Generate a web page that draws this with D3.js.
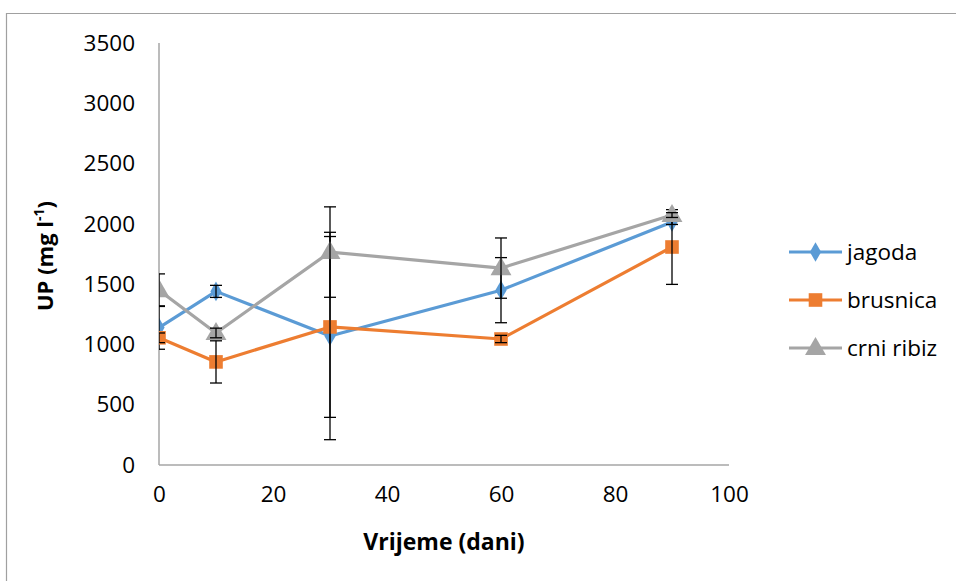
<!DOCTYPE html>
<html><head><meta charset="utf-8">
<script src="https://cdn.jsdelivr.net/npm/d3@7"></script>
<style>body{margin:0;background:#fff}svg{display:block}text{font-family:"Open Sans","Liberation Sans",sans-serif}</style>
</head><body>
<svg id="c" width="956" height="581"></svg>
<script>
const days = [0, 10, 30, 60, 90];
const seriesNames = ["jagoda", "brusnica", "crni ribiz"];
const jagoda = [1140, 1440, 1070, 1450, 2015];
const jagodaErr = [180, 50, 860, 270, 20];
const brusnica = [1055, 855, 1145, 1045, 1808];
const brusnicaErr = [40, 175, 750, 30, 310];
const crniRibiz = [1450, 1095, 1766, 1633, 2073];
const crniRibizErr = [135, 40, 375, 250, 20];
const xTicks = [0, 20, 40, 60, 80, 100];
const yTicks = [0, 500, 1000, 1500, 2000, 2500, 3000, 3500];
const colors = ["#5B9BD5", "#ED7D31", "#A5A5A5"];
const markerTypes = ["diamond", "square", "triangle"];

const series = [
  {name: seriesNames[0], vals: jagoda, err: jagodaErr},
  {name: seriesNames[1], vals: brusnica, err: brusnicaErr},
  {name: seriesNames[2], vals: crniRibiz, err: crniRibizErr}
];

const FONT = '"Open Sans","Liberation Sans",sans-serif';
const svg = d3.select("#c");
const x = d3.scaleLinear().domain([0, 100]).range([159, 729]);
const y = d3.scaleLinear().domain([0, 3500]).range([465, 43]);

// outer frame (top and left only visible)
svg.append("line").attr("x1", 7).attr("x2", 956).attr("y1", 13.5).attr("y2", 13.5).attr("stroke", "#a0a0a0").attr("stroke-width", 1.2);
svg.append("line").attr("x1", 6.5).attr("x2", 6.5).attr("y1", 13).attr("y2", 581).attr("stroke", "#a0a0a0").attr("stroke-width", 1.2);

// axes
const axisColor = "#A6A6A6";
const xAxis = svg.append("g").attr("transform", "translate(0,465)").call(d3.axisBottom(x).tickValues(xTicks).tickFormat(d3.format("d")).tickSize(0).tickPadding(22));
const yAxis = svg.append("g").attr("transform", "translate(159,0)").call(d3.axisLeft(y).tickValues(yTicks).tickFormat(d3.format("d")).tickSize(0).tickPadding(24));
[xAxis, yAxis].forEach(a => {
  a.select(".domain").attr("stroke", axisColor).attr("stroke-width", 1.5);
  a.selectAll("text").attr("font-size", 22.5).attr("fill", "#000").style("font-family", FONT);
});
xAxis.selectAll("text").attr("dy", "0.68em");
xAxis.select(".domain").attr("d", "M159,0H729");
yAxis.select(".domain").attr("d", "M0,43V465");

// titles
svg.append("text").attr("x", 444).attr("y", 550).attr("text-anchor", "middle").attr("font-size", 23).attr("font-weight", "bold").text("Vrijeme (dani)");
const yt = svg.append("text").attr("transform", "translate(53,256) rotate(-90)").attr("text-anchor", "middle").attr("font-size", 22).attr("font-weight", "bold");
yt.append("tspan").text("UP (mg l");
yt.append("tspan").attr("font-size", 14).attr("dy", -9).text("-1");
yt.append("tspan").attr("dy", 9).text(")");

// clip
svg.append("clipPath").attr("id", "pa").append("rect").attr("x", 159).attr("y", 30).attr("width", 600).attr("height", 435);
const plot = svg.append("g").attr("clip-path", "url(#pa)");

const line = d3.line().x((d, i) => x(days[i])).y(d => y(d));
const symFor = t => t === "diamond" ? d3.symbol().type(d3.symbolDiamond).size(110)
  : t === "square" ? d3.symbol().type(d3.symbolSquare).size(185)
  : d3.symbol().type(d3.symbolTriangle).size(190);

series.forEach((s, k) => {
  plot.append("path").attr("d", line(s.vals)).attr("fill", "none").attr("stroke", colors[k]).attr("stroke-width", 3.2).attr("stroke-linejoin", "round");
});
series.forEach((s, k) => {
  const g = plot.append("g");
  s.vals.forEach((v, i) => {
    const cx = x(days[i]);
    g.append("path").attr("d", symFor(markerTypes[k])()).attr("transform", `translate(${cx},${y(v) + (markerTypes[k]==="triangle"?1:0)})`).attr("fill", colors[k]);
  });
  s.vals.forEach((v, i) => {
    const cx = x(days[i]), e = s.err[i];
    const eb = g.append("g").attr("stroke", "#000").attr("stroke-width", 1.3);
    eb.append("line").attr("x1", cx).attr("x2", cx).attr("y1", y(v + e)).attr("y2", y(v - e));
    [v + e, v - e].forEach(t => eb.append("line").attr("x1", cx - 6).attr("x2", cx + 6).attr("y1", y(t)).attr("y2", y(t)));
  });
});

// legend
const leg = svg.append("g");
const legY = [252, 300, 348];
series.forEach((s, k) => {
  leg.append("line").attr("x1", 789).attr("x2", 842).attr("y1", legY[k]).attr("y2", legY[k]).attr("stroke", colors[k]).attr("stroke-width", 3.2);
  leg.append("path").attr("d", symFor(markerTypes[k])()).attr("transform", `translate(815.5,${legY[k] + (markerTypes[k]==="triangle"?1:0)})`).attr("fill", colors[k]);
  leg.append("text").attr("x", 847).attr("y", legY[k]).attr("dy", "0.35em").attr("font-size", 22.5).text(s.name);
});
</script>
</body></html>
